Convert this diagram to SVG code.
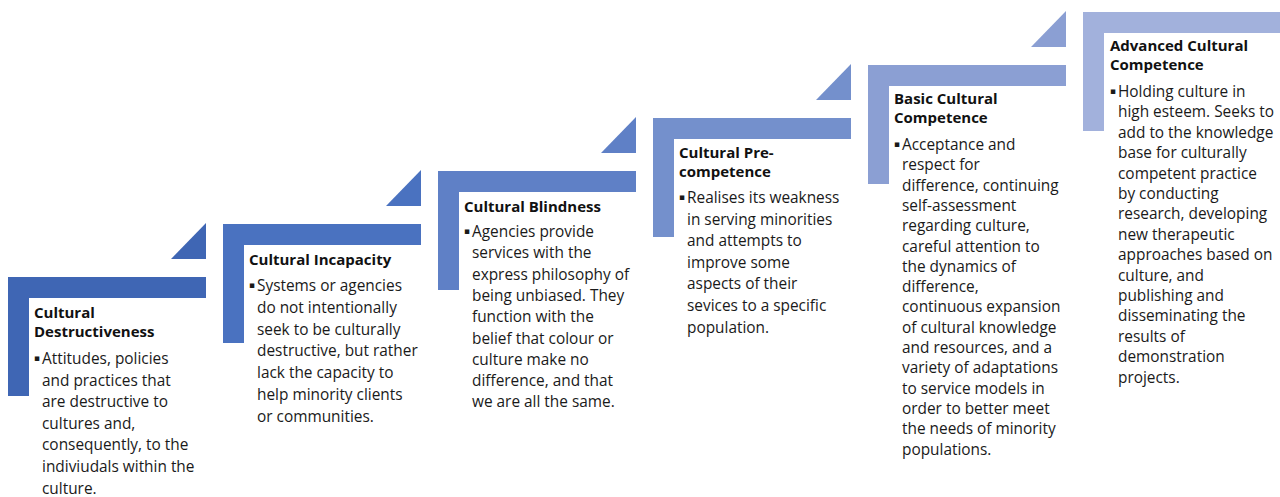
<svg xmlns="http://www.w3.org/2000/svg" width="1280" height="497" viewBox="0 0 1280 497">
  <style>
    .title { font-family: "Open Sans", "Noto Sans", sans-serif; font-size: 15px; font-weight: 700; fill: #111; }
    .body { font-family: "Open Sans", "Noto Sans", sans-serif; font-size: 15.4px; fill: #1a1a1a; }
    .bullet { font-family: "DejaVu Sans", sans-serif; font-size: 9px; fill: #1a1a1a; }
  </style>
  <defs>
    <!-- L-shaped step: top bar + left post; origin at the top-left corner -->
    <path id="step" d="M0 0 H198 V21 H21 V119 H0 Z"/>
    <!-- small right-angled triangle sitting above the right end of a step -->
    <path id="wedge" d="M198 -54 V-18 H163 Z"/>
  </defs>

  <rect width="1280" height="497" fill="#ffffff"/>

  <g id="step1" transform="translate(8,277)">
    <use href="#step" fill="#3f66b4"/>
    <use href="#wedge" fill="#3f66b4"/>
    <text class="title" x="26" y="41"><tspan x="26">Cultural</tspan><tspan x="26" dy="18.5">Destructiveness</tspan></text>
    <text class="bullet" x="26" y="84">▪</text>
    <text class="body" y="87">
      <tspan x="34">Attitudes, policies</tspan>
      <tspan x="34" dy="21.6">and practices that</tspan>
      <tspan x="34" dy="21.6">are destructive to</tspan>
      <tspan x="34" dy="21.6">cultures and,</tspan>
      <tspan x="34" dy="21.6">consequently, to the</tspan>
      <tspan x="34" dy="21.6">indiviudals within the</tspan>
      <tspan x="34" dy="21.6">culture.</tspan>
    </text>
  </g>

  <g id="step2" transform="translate(223,224)">
    <use href="#step" fill="#4a72c0"/>
    <use href="#wedge" fill="#4a72c0"/>
    <text class="title" x="26" y="41">Cultural Incapacity</text>
    <text class="bullet" x="26" y="64">▪</text>
    <text class="body" y="67">
      <tspan x="34">Systems or agencies</tspan>
      <tspan x="34" dy="21.8">do not intentionally</tspan>
      <tspan x="34" dy="21.8">seek to be culturally</tspan>
      <tspan x="34" dy="21.8">destructive, but rather</tspan>
      <tspan x="34" dy="21.8">lack the capacity to</tspan>
      <tspan x="34" dy="21.8">help minority clients</tspan>
      <tspan x="34" dy="21.8">or communities.</tspan>
    </text>
  </g>

  <g id="step3" transform="translate(438,171)">
    <use href="#step" fill="#5f80c6"/>
    <use href="#wedge" fill="#5f80c6"/>
    <text class="title" x="26" y="41">Cultural Blindness</text>
    <text class="bullet" x="26" y="63">▪</text>
    <text class="body" y="66">
      <tspan x="34">Agencies provide</tspan>
      <tspan x="34" dy="21.3">services with the</tspan>
      <tspan x="34" dy="21.3">express philosophy of</tspan>
      <tspan x="34" dy="21.3">being unbiased. They</tspan>
      <tspan x="34" dy="21.3">function with the</tspan>
      <tspan x="34" dy="21.3">belief that colour or</tspan>
      <tspan x="34" dy="21.3">culture make no</tspan>
      <tspan x="34" dy="21.3">difference, and that</tspan>
      <tspan x="34" dy="21.3">we are all the same.</tspan>
    </text>
  </g>

  <g id="step4" transform="translate(653,118)">
    <use href="#step" fill="#7490cc"/>
    <use href="#wedge" fill="#7490cc"/>
    <text class="title" x="26" y="40"><tspan x="26">Cultural Pre-</tspan><tspan x="26" dy="18.5">competence</tspan></text>
    <text class="bullet" x="26" y="82">▪</text>
    <text class="body" y="85">
      <tspan x="34">Realises its weakness</tspan>
      <tspan x="34" dy="21.6">in serving minorities</tspan>
      <tspan x="34" dy="21.6">and attempts to</tspan>
      <tspan x="34" dy="21.6">improve some</tspan>
      <tspan x="34" dy="21.6">aspects of their</tspan>
      <tspan x="34" dy="21.6">sevices to a specific</tspan>
      <tspan x="34" dy="21.6">population.</tspan>
    </text>
  </g>

  <g id="step5" transform="translate(868,65)">
    <use href="#step" fill="#8b9fd3"/>
    <use href="#wedge" fill="#8b9fd3"/>
    <text class="title" x="26" y="39"><tspan x="26">Basic Cultural</tspan><tspan x="26" dy="18.5">Competence</tspan></text>
    <text class="bullet" x="26" y="82">▪</text>
    <text class="body" y="85">
      <tspan x="34">Acceptance and</tspan>
      <tspan x="34" dy="20.3">respect for</tspan>
      <tspan x="34" dy="20.3">difference, continuing</tspan>
      <tspan x="34" dy="20.3">self-assessment</tspan>
      <tspan x="34" dy="20.3">regarding culture,</tspan>
      <tspan x="34" dy="20.3">careful attention to</tspan>
      <tspan x="34" dy="20.3">the dynamics of</tspan>
      <tspan x="34" dy="20.3">difference,</tspan>
      <tspan x="34" dy="20.3">continuous expansion</tspan>
      <tspan x="34" dy="20.3">of cultural knowledge</tspan>
      <tspan x="34" dy="20.3">and resources, and a</tspan>
      <tspan x="34" dy="20.3">variety of adaptations</tspan>
      <tspan x="34" dy="20.3">to service models in</tspan>
      <tspan x="34" dy="20.3">order to better meet</tspan>
      <tspan x="34" dy="20.3">the needs of minority</tspan>
      <tspan x="34" dy="20.3">populations.</tspan>
    </text>
  </g>

  <g id="step6" transform="translate(1083,12)">
    <use href="#step" fill="#a2b1dc"/>
    <text class="title" x="27" y="39"><tspan x="27">Advanced Cultural</tspan><tspan x="27" dy="18.5">Competence</tspan></text>
    <text class="bullet" x="27" y="82">▪</text>
    <text class="body" y="85">
      <tspan x="35">Holding culture in</tspan>
      <tspan x="35" dy="20.4">high esteem. Seeks to</tspan>
      <tspan x="35" dy="20.4">add to the knowledge</tspan>
      <tspan x="35" dy="20.4">base for culturally</tspan>
      <tspan x="35" dy="20.4">competent practice</tspan>
      <tspan x="35" dy="20.4">by conducting</tspan>
      <tspan x="35" dy="20.4">research, developing</tspan>
      <tspan x="35" dy="20.4">new therapeutic</tspan>
      <tspan x="35" dy="20.4">approaches based on</tspan>
      <tspan x="35" dy="20.4">culture, and</tspan>
      <tspan x="35" dy="20.4">publishing and</tspan>
      <tspan x="35" dy="20.4">disseminating the</tspan>
      <tspan x="35" dy="20.4">results of</tspan>
      <tspan x="35" dy="20.4">demonstration</tspan>
      <tspan x="35" dy="20.4">projects.</tspan>
    </text>
  </g>

  <g id="connectors"/>
</svg>
